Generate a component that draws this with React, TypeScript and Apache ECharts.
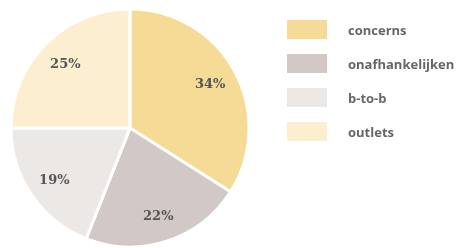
import React, { useEffect, useRef } from "react";
import * as echarts from "echarts";

const categories = ["concerns", "onafhankelijken", "b-to-b", "outlets"];
const values = [34, 22, 19, 25];
const colors = ["#f6db96", "#d2c8c6", "#ece8e6", "#fcefd0"];

export default function App() {
  const ref = useRef<HTMLDivElement>(null);
  useEffect(() => {
    if (!ref.current) return;
    const chart = echarts.init(ref.current, null, { renderer: "svg" });
    const data = categories.map((name, i) => ({
      name,
      value: values[i],
      itemStyle: { color: colors[i] },
    }));
    chart.setOption({
      animation: false,
      legend: {
        orient: "vertical",
        left: 285,
        top: 18,
        padding: 0,
        itemWidth: 42,
        itemHeight: 21,
        itemGap: 11,
        icon: "rect",
        data: categories,
        textStyle: {
          color: "#666666",
          fontWeight: "bold",
          fontSize: 13,
          fontFamily: "Open Sans, sans-serif",
          padding: [0, 0, 0, 15],
        },
      },
      series: [
        {
          type: "pie",
          center: [130, 128],
          radius: [0, 119],
          startAngle: 90,
          clockwise: true,
          silent: true,
          label: { show: false },
          labelLine: { show: false },
          itemStyle: { borderColor: "#ffffff", borderWidth: 3 },
          data,
        },
        {
          type: "pie",
          center: [130, 128],
          radius: [58, 119],
          startAngle: 90,
          clockwise: true,
          silent: true,
          legendHoverLink: false,
          itemStyle: { color: "transparent" },
          label: {
            show: true,
            position: "inside",
            formatter: "{c}%",
            color: "#555555",
            fontSize: 13,
            fontWeight: "bold",
            fontFamily: "Georgia, DejaVu Serif, serif",
          },
          labelLine: { show: false },
          data: categories.map((name, i) => ({ name: name + "_l", value: values[i] })),
        },
      ],
    });
    return () => chart.dispose();
  }, []);
  return (
    <div
      ref={ref}
      style={{ position: "fixed", left: 0, top: 0, width: 456, height: 248 }}
    />
  );
}
